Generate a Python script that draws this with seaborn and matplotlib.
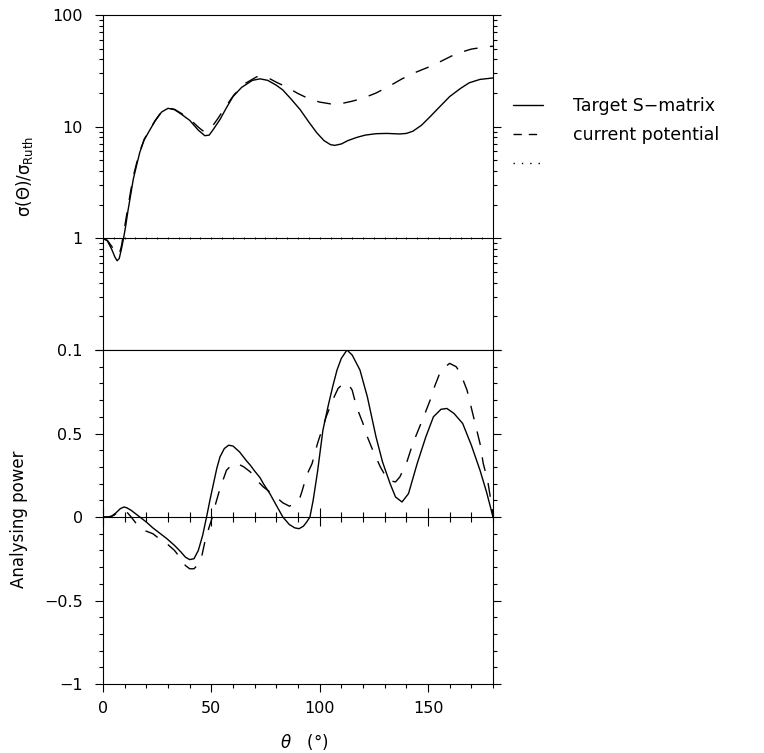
import numpy as np
import pandas as pd
import matplotlib
matplotlib.use("Agg")
import matplotlib.pyplot as plt
from matplotlib.lines import Line2D
from matplotlib.ticker import FixedLocator, FixedFormatter, MultipleLocator, NullFormatter
import seaborn as sns

# ---- cross section ratio sigma/sigma_Ruth ----
theta_xs_target = [0, 2, 4, 5.5, 6.5, 7.5, 8.5, 9.5, 10.5, 11.6, 13, 14, 15.5, 17, 19, 21.7,
                   24, 27, 30, 33, 36, 40, 44, 47, 49, 51, 54, 57, 60, 64, 69, 72.5, 76,
                   80, 83, 87, 91, 95, 98.7, 102, 105, 107, 110, 113, 117, 121, 126, 131,
                   137, 140, 143, 147, 151, 155, 160, 165, 169, 174, 180]
xs_target = [1.0, 0.95, 0.8, 0.68, 0.63, 0.66, 0.8, 1.0, 1.3, 1.8, 2.6, 3.4, 4.5, 5.9, 7.6, 9.4,
             11.2, 13.5, 14.6, 14.2, 13.0, 11.4, 9.3, 8.3, 8.4, 9.5, 11.6, 14.8, 18.6, 22.5, 26.0,
             26.8, 26.0, 23.5, 21.3, 17.5, 14.2, 11.0, 8.8, 7.5, 6.9, 6.8, 7.0, 7.5, 8.0, 8.4,
             8.65, 8.7, 8.6, 8.7, 9.1, 10.3, 12.3, 14.8, 18.6, 22.0, 24.7, 26.5, 27.3]

theta_xs_current = [0, 2, 4, 6, 7.5, 8.5, 9.5, 10.5, 11.6, 13, 14, 15.5, 17, 19, 21.7, 24, 27,
                    30, 33, 36, 40, 44, 46, 48, 50, 53, 57, 60.5, 65, 71, 73, 76, 80, 85, 90,
                    95, 100, 105, 110, 115, 120, 126, 132, 138, 144, 150, 156, 163, 170, 177, 180]
xs_current = [1.0, 0.96, 0.85, 0.73, 0.72, 0.85, 1.1, 1.45, 1.95, 2.8, 3.6, 4.7, 6.0, 7.7, 9.5,
              11.3, 13.6, 14.7, 14.3, 13.2, 11.7, 9.9, 9.2, 9.1, 9.8, 11.8, 15.5, 19.3, 24.0,
              28.0, 28.2, 27.5, 25.0, 22.5, 19.8, 17.8, 16.6, 16.0, 16.1, 16.9, 18.0, 20.0,
              23.0, 26.8, 30.5, 34.0, 38.5, 45.0, 49.5, 52.0, 52.5]

# ---- analysing power ----
theta_ap_target = [0, 2, 4, 6, 8, 9.7, 11, 13, 15, 17, 20, 23, 26, 29.5, 33, 36, 38, 40, 42, 44,
                   46, 47.8, 49.5, 51, 52.5, 54, 56, 58, 60, 63, 66, 68, 70, 72.5, 74, 77, 80,
                   83, 86, 88.5, 90.5, 92.5, 94, 95.5, 97, 99, 101.5, 104, 106, 108, 110, 112.6,
                   115, 118.6, 122, 126, 129, 132.5, 135, 138, 141, 145, 149, 152.5, 156, 158.7,
                   162, 166, 170, 174, 177, 180]
ap_target = [0.0, 0.0, 0.005, 0.025, 0.05, 0.06, 0.055, 0.04, 0.02, 0.0, -0.03, -0.065, -0.095,
             -0.13, -0.17, -0.21, -0.24, -0.255, -0.25, -0.2, -0.11, 0.0, 0.11, 0.2, 0.29, 0.36,
             0.41, 0.43, 0.425, 0.39, 0.34, 0.31, 0.275, 0.235, 0.2, 0.14, 0.07, 0.0, -0.045,
             -0.065, -0.07, -0.055, -0.03, 0.0, 0.1, 0.27, 0.52, 0.67, 0.78, 0.88, 0.95, 1.0,
             0.97, 0.88, 0.72, 0.48, 0.33, 0.2, 0.12, 0.09, 0.14, 0.32, 0.48, 0.6, 0.645, 0.65,
             0.62, 0.56, 0.43, 0.28, 0.15, 0.0]

theta_ap_current = [0, 3, 5, 7, 9, 11, 13, 16, 19, 23, 26, 29.5, 33, 36, 38, 40, 42, 43.5, 45.5,
                    47, 49, 50.5, 52, 54, 57, 60, 62, 65, 68, 71, 74, 78, 83, 86, 89, 91, 92,
                    94, 96.5, 99, 103, 106, 108.5, 111, 113, 115, 117, 120, 122, 124.5, 128,
                    131.5, 135, 137, 140, 143, 148, 151, 153, 156, 160, 163, 165, 168, 171, 174,
                    175.5, 177.5, 179.5, 180]
ap_current = [0.0, 0.0, 0.01, 0.03, 0.04, 0.03, 0.0, -0.05, -0.08, -0.1, -0.13, -0.16, -0.2,
              -0.25, -0.29, -0.31, -0.31, -0.29, -0.24, -0.15, -0.06, 0.0, 0.08, 0.17, 0.28,
              0.32, 0.32, 0.3, 0.27, 0.22, 0.18, 0.14, 0.085, 0.065, 0.08, 0.12, 0.16, 0.25,
              0.32, 0.44, 0.6, 0.7, 0.77, 0.8, 0.8, 0.76, 0.66, 0.56, 0.48, 0.4, 0.3, 0.22,
              0.21, 0.24, 0.32, 0.44, 0.6, 0.7, 0.78, 0.88, 0.92, 0.9, 0.86, 0.76, 0.6, 0.44,
              0.32, 0.22, 0.06, 0.0]

series_labels = ["Target S\u2212matrix", "current potential", " "]
xs_ticks = [0.1, 1, 10, 100]
xs_ticklabels = ["0.1", "1", "10", "100"]
ap_ticks = [-1, -0.5, 0, 0.5, 1]
ap_ticklabels = ["\u22121", "\u22120.5", "0", "0.5", ""]
theta_ticks = [0, 50, 100, 150]

sns.set_style("ticks")
plt.rcParams["font.family"] = ["DejaVu Sans"]
plt.rcParams["axes.linewidth"] = 0.8
for key in ("text.color", "axes.labelcolor", "xtick.color", "ytick.color", "axes.edgecolor"):
    plt.rcParams[key] = "black"
FS = 11.5

fig = plt.figure(figsize=(7.64, 7.53), dpi=100)
left, width = 0.1348, 0.5105
ax_top = fig.add_axes([left, 0.53519, width, 0.44489])
ax_bot = fig.add_axes([left, 0.09163, width, 0.44356])

DASH = (10, 9)

df_xs_t = pd.DataFrame({"theta": theta_xs_target, "v": xs_target})
df_xs_c = pd.DataFrame({"theta": theta_xs_current, "v": xs_current})
df_ap_t = pd.DataFrame({"theta": theta_ap_target, "v": ap_target})
df_ap_c = pd.DataFrame({"theta": theta_ap_current, "v": ap_current})

sns.lineplot(data=df_xs_t, x="theta", y="v", ax=ax_top, color="black", lw=1.0)
sns.lineplot(data=df_xs_c, x="theta", y="v", ax=ax_top, color="black", lw=1.0)
sns.lineplot(data=df_ap_t, x="theta", y="v", ax=ax_bot, color="black", lw=1.0)
sns.lineplot(data=df_ap_c, x="theta", y="v", ax=ax_bot, color="black", lw=1.0)
for ln in ax_top.lines[1:2] + ax_bot.lines[1:2]:
    ln.set_dashes(DASH)

# ---- top panel axes ----
ax_top.set_yscale("log")
ax_top.set_xlim(0, 180)
ax_top.set_ylim(0.1, 100)
ax_top.yaxis.set_major_locator(FixedLocator(xs_ticks))
ax_top.yaxis.set_major_formatter(FixedFormatter(xs_ticklabels))
ax_top.yaxis.set_minor_locator(FixedLocator(
    [m * 10.0 ** e for e in (-1, 0, 1) for m in range(2, 10)]))
ax_top.yaxis.set_minor_formatter(NullFormatter())
ax_top.tick_params(axis="x", which="both", bottom=False, top=False, labelbottom=False)
ax_top.tick_params(axis="y", which="both", left=True, right=True, direction="out",
                   labelsize=FS, pad=8.5, width=0.8)
ax_top.tick_params(axis="y", which="major", length=6)
ax_top.tick_params(axis="y", which="minor", length=3)
ax_top.set_xlabel("")
ax_top.set_ylabel("σ(Θ)/σ$_{\\mathregular{Ruth}}$", fontsize=FS + 0.5, va="center")
ax_top.yaxis.set_label_coords(-0.2, 0.519)

# reference line at ratio 1 with small ticks
ref_top = ax_top.secondary_xaxis(1 / 3)
ref_top.xaxis.set_major_locator(MultipleLocator(5))
ref_top.tick_params(axis="x", which="major", direction="inout", length=2, width=0.6,
                    labelbottom=False, labeltop=False)

# ---- bottom panel axes ----
ax_bot.set_xlim(0, 180)
ax_bot.set_ylim(-1, 1)
ax_bot.yaxis.set_major_locator(FixedLocator(ap_ticks))
ax_bot.yaxis.set_major_formatter(FixedFormatter(ap_ticklabels))
ax_bot.yaxis.set_minor_locator(MultipleLocator(0.1))
ax_bot.xaxis.set_major_locator(FixedLocator(theta_ticks))
ax_bot.xaxis.set_minor_locator(MultipleLocator(10))
ax_bot.tick_params(axis="both", which="both", direction="out", width=0.8, labelsize=FS)
ax_bot.tick_params(axis="y", which="both", left=True, right=True, pad=8.5)
ax_bot.tick_params(axis="x", which="both", bottom=True, top=False, pad=6)
ax_bot.tick_params(axis="both", which="major", length=6)
ax_bot.tick_params(axis="both", which="minor", length=3)
ax_bot.set_xlabel("$\\theta$\u2003(°)", fontsize=FS + 0.5, labelpad=9)
ax_bot.xaxis.set_label_coords(0.515, -0.145)
ax_bot.set_ylabel("Analysing power", fontsize=FS + 0.5, va="center")
ax_bot.yaxis.set_label_coords(-0.215, 0.494)

# zero line with crossing ticks
ref_bot = ax_bot.secondary_xaxis(0.5)
ref_bot.xaxis.set_major_locator(FixedLocator(theta_ticks))
ref_bot.xaxis.set_minor_locator(MultipleLocator(10))
ref_bot.tick_params(axis="x", which="both", direction="inout", width=0.8,
                    labelbottom=False, labeltop=False)
ref_bot.tick_params(axis="x", which="major", length=13.5)
ref_bot.tick_params(axis="x", which="minor", length=7)

for ax in (ax_top, ax_bot):
    for s in ax.spines.values():
        s.set_visible(True)
        s.set_color("black")

handles = [Line2D([], [], color="black", lw=1.0),
           Line2D([], [], color="black", lw=1.0, dashes=(6, 5)),
           Line2D([], [], color="black", lw=1.0, linestyle=(0, (1, 5)))]
fig.legend(handles, series_labels, loc="upper left", bbox_to_anchor=(0.671, 0.871),
           frameon=False, fontsize=FS + 1, handlelength=1.75, handletextpad=1.75,
           labelspacing=0.62, borderaxespad=0, borderpad=0)

fig.savefig("out.png", dpi=100, facecolor="white")
